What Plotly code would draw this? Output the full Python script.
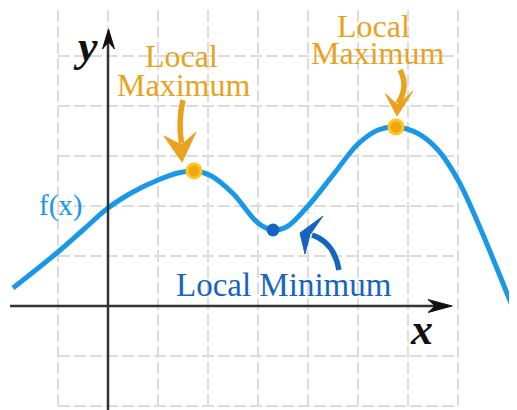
import plotly.graph_objects as go

# curve f(x) (grid units, 1 unit = 1 grid cell)
curve_x = [-1.90, -1.00, -0.50, 0.00, 0.50, 1.00, 1.40, 1.72, 2.05, 2.50, 3.00, 3.30,
           3.60, 4.00, 4.50, 5.00, 5.40, 5.76, 6.20, 6.60, 7.00, 7.40, 7.80, 8.18]
curve_y = [0.36, 1.08, 1.52, 1.96, 2.28, 2.52, 2.66, 2.70, 2.61, 2.25, 1.66, 1.52,
           1.60, 2.00, 2.62, 3.24, 3.52, 3.58, 3.45, 3.12, 2.52, 1.66, 0.70, -0.24]

max_x = [1.72, 5.76]
max_y = [2.70, 3.58]
min_x = [3.30]
min_y = [1.52]

grid_ticks = list(range(-1, 8))
grid_ticks_y = list(range(-2, 7))

BLUE = "#1a98e8"
DARK_BLUE = "#1565c0"
ORANGE = "#e9a220"
AXIS = "#333333"
SERIF = "Liberation Serif, Times New Roman, serif"

fig = go.Figure()

# dashed grid
shapes = []
for gx in grid_ticks:
    shapes.append(dict(type="line", x0=gx, x1=gx, y0=grid_ticks_y[0], y1=grid_ticks_y[-1],
                       line=dict(color="#dcdcdc", width=2, dash="12px,4px"), layer="below"))
for gy in grid_ticks_y:
    shapes.append(dict(type="line", y0=gy, y1=gy, x0=grid_ticks[0], x1=grid_ticks[-1],
                       line=dict(color="#dcdcdc", width=2, dash="12px,4px"), layer="below"))

# axes with dart arrowheads
shapes.append(dict(type="line", x0=-1.96, x1=6.6, y0=0, y1=0, line=dict(color=AXIS, width=2.5)))
shapes.append(dict(type="line", x0=0, x1=0, y0=-2.3, y1=5.3, line=dict(color=AXIS, width=2.5)))
shapes.append(dict(type="path", path="M6.88,0 L6.40,0.13 L6.54,0 L6.40,-0.13 Z",
                   fillcolor="#111111", line=dict(color="#111111", width=1)))
shapes.append(dict(type="path", path="M0.01,5.54 L-0.11,5.14 L0.01,5.28 L0.13,5.14 Z",
                   fillcolor="#111111", line=dict(color="#111111", width=1)))

# curved pointer arrows
def pointer(start, ctrl, end, tip, b1, notch, b2, color):
    shapes.append(dict(type="path",
                       path=f"M{start[0]},{start[1]} Q{ctrl[0]},{ctrl[1]} {end[0]},{end[1]}",
                       line=dict(color=color, width=5.5)))
    shapes.append(dict(type="path",
                       path=f"M{tip[0]},{tip[1]} L{b1[0]},{b1[1]} L{notch[0]},{notch[1]} "
                            f"L{b2[0]},{b2[1]} Z",
                       fillcolor=color, line=dict(color=color, width=1)))

pointer((1.50, 4.12), (1.40, 3.70), (1.47, 3.25), (1.48, 2.88),
        (1.12, 3.40), (1.47, 3.22), (1.76, 3.48), ORANGE)
pointer((5.84, 4.72), (6.02, 4.40), (5.80, 4.05), (5.78, 3.80),
        (5.55, 4.24), (5.80, 4.02), (6.10, 4.30), ORANGE)
pointer((4.62, 0.72), (4.52, 1.28), (4.08, 1.42), (3.84, 1.46),
        (4.30, 1.80), (4.04, 1.43), (3.94, 1.04), DARK_BLUE)

fig.add_trace(go.Scatter(x=curve_x, y=curve_y, mode="lines",
                         line=dict(color=BLUE, width=5, shape="spline", smoothing=1.0),
                         hoverinfo="skip"))
fig.add_trace(go.Scatter(x=max_x, y=max_y, mode="markers",
                         marker=dict(size=14, color="#f0a612",
                                     line=dict(color="#ffc81c", width=3)),
                         hoverinfo="skip"))
fig.add_trace(go.Scatter(x=min_x, y=min_y, mode="markers",
                         marker=dict(size=13, color=DARK_BLUE), hoverinfo="skip"))

def label(text, x, y, color, size, family=SERIF):
    return dict(text=text, x=x, y=y, xref="x", yref="y", showarrow=False,
                font=dict(family=family, size=size, color=color),
                xanchor="center", yanchor="middle")

annotations = [
    label("Local", 1.46, 5.00, ORANGE, 32),
    label("Maximum", 1.50, 4.42, ORANGE, 32),
    label("Local", 5.30, 5.60, ORANGE, 32),
    label("Maximum", 5.38, 5.06, ORANGE, 32),
    label("Local Minimum", 3.52, 0.42, DARK_BLUE, 33),
    label("f(x)", -0.96, 2.02, BLUE, 29),
    label("<b><i>y</i></b>", -0.46, 5.20, "#111111", 44),
    label("<b><i>x</i></b>", 6.26, -0.46, "#111111", 44),
]

# the page adds an 8px body margin, so the ranges are shifted by 8px
fig.update_layout(
    width=517, height=410,
    margin=dict(l=0, r=0, t=0, b=0),
    paper_bgcolor="white", plot_bgcolor="white",
    showlegend=False,
    xaxis=dict(range=[-2.0, 8.34], visible=False, fixedrange=True),
    yaxis=dict(range=[-2.24, 5.96], visible=False, fixedrange=True),
    shapes=shapes,
    annotations=annotations,
)

fig.write_html("out.html")
